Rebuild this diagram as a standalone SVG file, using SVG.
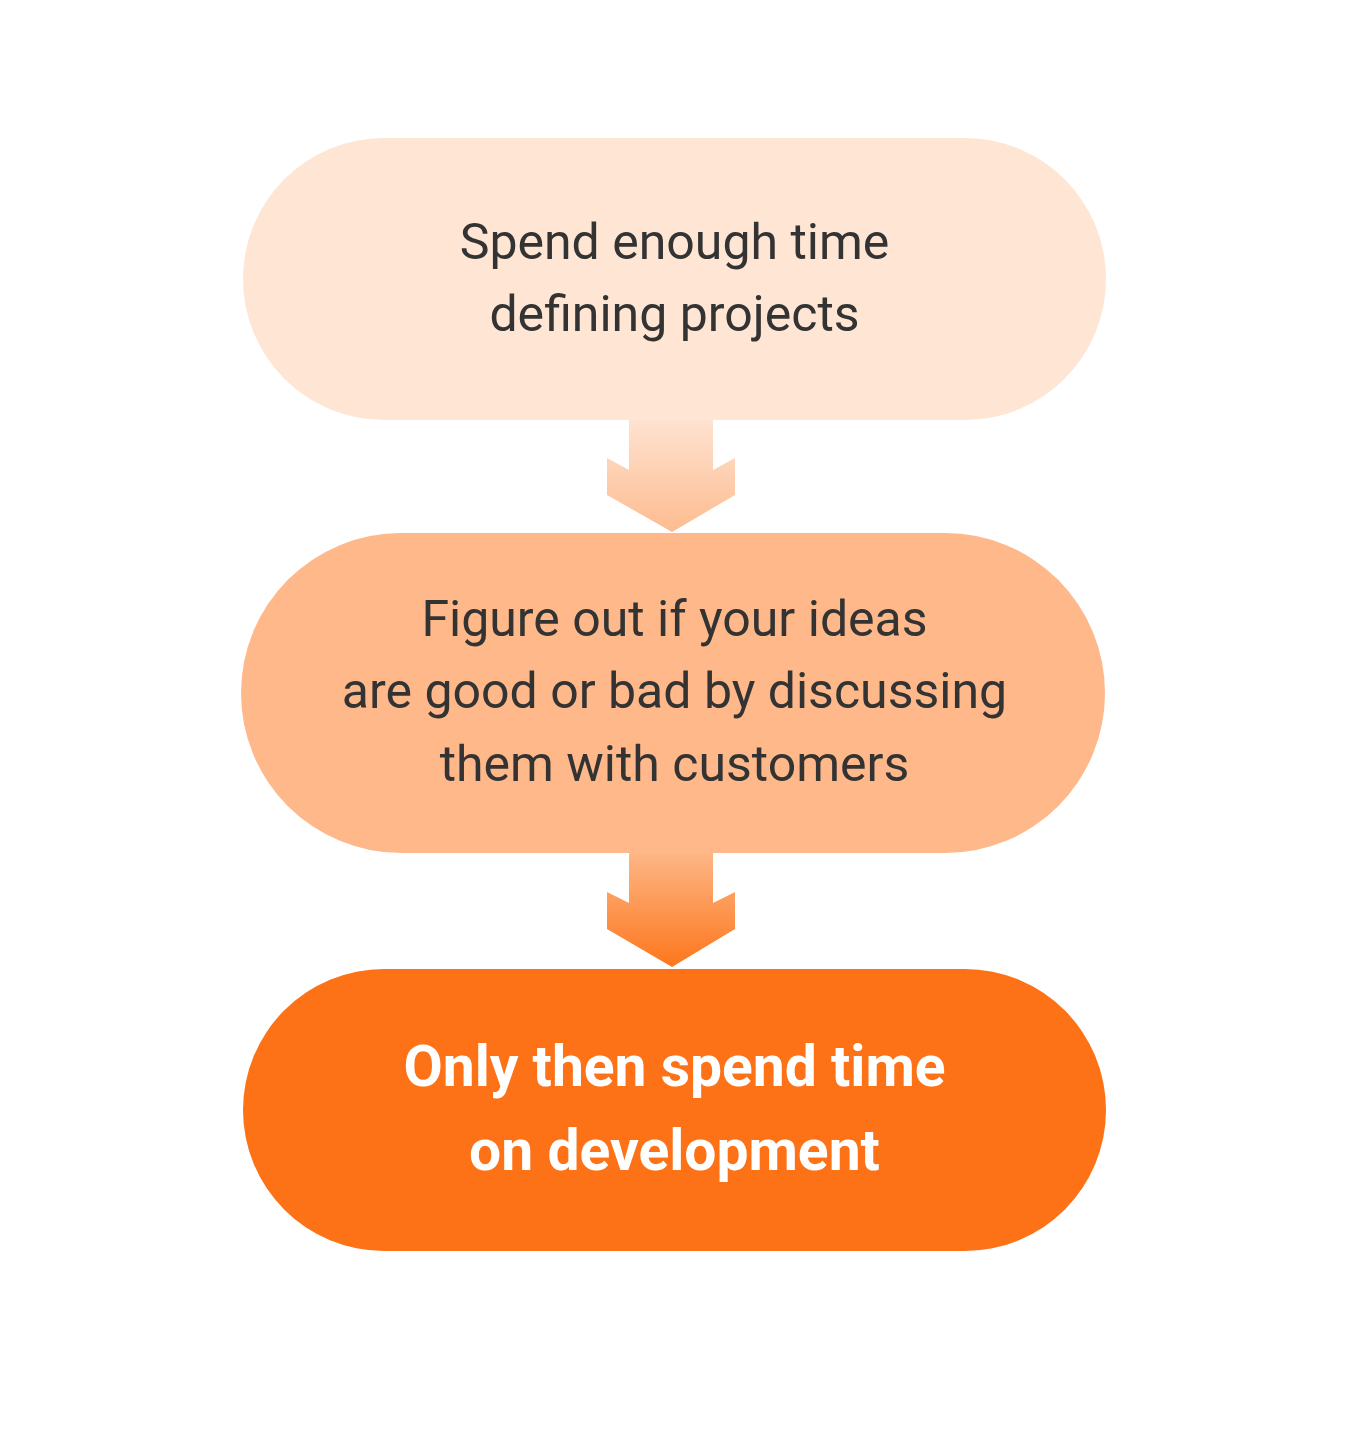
<svg xmlns="http://www.w3.org/2000/svg" width="1352" height="1446" viewBox="0 0 1352 1446">
<defs>
<linearGradient id="g1" x1="0" y1="0" x2="0" y2="1">
<stop offset="0" stop-color="#FEE4D3"/>
<stop offset="1" stop-color="#FDBC90"/>
</linearGradient>
<linearGradient id="g2" x1="0" y1="0" x2="0" y2="1">
<stop offset="0" stop-color="#FDB98B"/>
<stop offset="1" stop-color="#FD761C"/>
</linearGradient>
<style>
.t{font-family:Roboto,"Liberation Sans",sans-serif;font-size:50px;fill:#333333;text-anchor:middle}
.b{font-family:Roboto,"Liberation Sans",sans-serif;font-size:57px;font-weight:bold;fill:#FFFFFF;text-anchor:middle}
</style>
</defs>
<rect width="1352" height="1446" fill="#FFFFFF"/>
<g id="connectors">
<polygon points="629,415 713,415 713,470 735,458 735,495 672,532 607,495 607,458 629,470" fill="url(#g1)"/>
<polygon points="629,848 713,848 713,903 735,892 735,929 672,967 607,929 607,892 629,903" fill="url(#g2)"/>
</g>
<g id="node1">
<rect x="243" y="138" width="863" height="282" rx="141" ry="141" fill="#FEE5D4"/>
<text class="t" x="674.5" y="259">Spend enough time</text>
<text class="t" x="674.5" y="331">defining projects</text>
</g>
<g id="node2">
<rect x="241" y="533" width="864" height="320" rx="160" ry="160" fill="#FEB88A"/>
<text class="t" x="674.5" y="636">Figure out if your ideas</text>
<text class="t" x="674.5" y="708">are good or bad by discussing</text>
<text class="t" x="674.5" y="781">them with customers</text>
</g>
<g id="node3">
<rect x="243" y="969" width="863" height="282" rx="141" ry="141" fill="#FD7117"/>
<text class="b" x="674.5" y="1086">Only then spend time</text>
<text class="b" x="674.5" y="1170">on development</text>
</g>
</svg>
